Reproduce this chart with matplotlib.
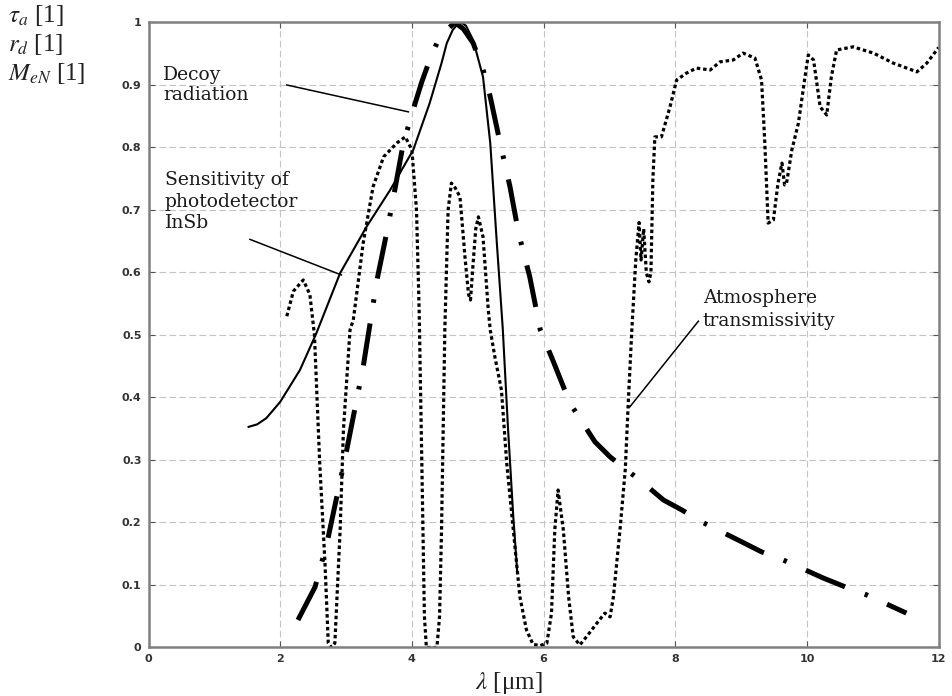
import matplotlib
matplotlib.use("Agg")
import matplotlib.pyplot as plt

# InSb photodetector sensitivity (solid)
insb_x = [1.52, 1.65, 1.79, 2.0, 2.3, 2.55, 2.91, 3.31, 3.67, 4.02, 4.27, 4.45, 4.53,
          4.62, 4.69, 4.75, 4.82, 4.93, 5.08, 5.19, 5.29, 5.38, 5.46, 5.54, 5.6]
insb_y = [0.353, 0.357, 0.367, 0.393, 0.444, 0.503, 0.599, 0.673, 0.732, 0.796, 0.871, 0.935, 0.967,
          0.988, 0.997, 1.0, 0.995, 0.972, 0.913, 0.807, 0.647, 0.51, 0.35, 0.209, 0.12]

# Decoy radiation (dash-dot)
decoy_x = [2.27, 2.53, 2.71, 3.01, 3.26, 3.47, 3.62, 3.74, 3.87, 4.05, 4.15, 4.27, 4.4,
           4.53, 4.65, 4.78, 4.93, 5.08, 5.19, 5.34, 5.49, 5.62, 5.79, 5.95, 6.15, 6.4,
           6.78, 7.01, 7.26, 7.46, 7.82, 8.1, 8.4, 9.01, 9.31, 9.64, 10.25, 10.58, 10.91, 11.51]
decoy_y = [0.044, 0.097, 0.167, 0.316, 0.449, 0.588, 0.665, 0.732, 0.807, 0.871, 0.905, 0.94, 0.972,
           0.988, 1.0, 0.99, 0.967, 0.925, 0.881, 0.807, 0.737, 0.663, 0.593, 0.508, 0.457, 0.391,
           0.329, 0.305, 0.284, 0.268, 0.236, 0.22, 0.201, 0.169, 0.153, 0.14, 0.111, 0.097, 0.084, 0.055]

# Atmosphere transmissivity (dotted)
atm_x = [2.10, 2.2, 2.35, 2.45, 2.52, 2.60, 2.68, 2.73, 2.78, 2.83, 2.91, 2.96, 3.06, 3.11,
         3.26, 3.41, 3.57, 3.77, 3.90, 4.0, 4.07, 4.11, 4.15, 4.19, 4.22, 4.30, 4.38, 4.42,
         4.45, 4.50, 4.55, 4.60, 4.66, 4.73, 4.81, 4.86, 4.89, 4.93, 4.97, 5.01, 5.08, 5.16,
         5.19, 5.26, 5.36, 5.44, 5.54, 5.64, 5.74, 5.84, 5.95, 6.05, 6.12, 6.17, 6.22, 6.26,
         6.30, 6.38, 6.45, 6.55, 6.65, 6.81, 6.93, 7.01, 7.06, 7.16, 7.24, 7.29, 7.34, 7.40,
         7.45, 7.48, 7.52, 7.56, 7.60, 7.63, 7.66, 7.69, 7.79, 7.92, 8.02, 8.17, 8.32, 8.53,
         8.68, 8.88, 9.03, 9.21, 9.31, 9.36, 9.41, 9.49, 9.56, 9.62, 9.66, 9.69, 9.77, 9.87,
         9.97, 10.02, 10.10, 10.20, 10.30, 10.37, 10.45, 10.70, 11.01, 11.31, 11.67, 11.82, 12.0]
atm_y = [0.53, 0.57, 0.588, 0.565, 0.50, 0.295, 0.135, 0.007, 0.0, 0.007, 0.188, 0.348, 0.508, 0.524,
         0.647, 0.737, 0.785, 0.807, 0.817, 0.796, 0.70, 0.54, 0.30, 0.05, 0.0, 0.0, 0.0, 0.05,
         0.188, 0.508, 0.70, 0.743, 0.735, 0.721, 0.62, 0.565, 0.556, 0.615, 0.67, 0.689, 0.657, 0.54,
         0.508, 0.465, 0.412, 0.295, 0.188, 0.081, 0.028, 0.005, 0.003, 0.007, 0.055, 0.188, 0.252, 0.22,
         0.188, 0.081, 0.017, 0.004, 0.017, 0.039, 0.055, 0.049, 0.081, 0.188, 0.284, 0.401, 0.508, 0.62,
         0.68, 0.62, 0.67, 0.60, 0.585, 0.60, 0.75, 0.817, 0.817, 0.865, 0.908, 0.919, 0.927, 0.924,
         0.937, 0.94, 0.951, 0.943, 0.908, 0.807, 0.679, 0.684, 0.743, 0.775, 0.74, 0.743, 0.796, 0.839,
         0.913, 0.948, 0.94, 0.865, 0.852, 0.913, 0.956, 0.961, 0.951, 0.935, 0.921, 0.935, 0.96]

x_ticks = [0, 2, 4, 6, 8, 10, 12]
y_ticks = [0, 0.1, 0.2, 0.3, 0.4, 0.5, 0.6, 0.7, 0.8, 0.9, 1]
y_tick_labels = ["0", "0.1", "0.2", "0.3", "0.4", "0.5", "0.6", "0.7", "0.8", "0.9", "1"]

plt.rcParams["mathtext.fontset"] = "stix"

fig = plt.figure(figsize=(9.52, 6.96), dpi=100)
ax = fig.add_axes([0.156, 0.0697, 0.830, 0.898])

ax.plot(atm_x, atm_y, color="black", lw=2.3, linestyle=(0, (1.1, 0.9)))
ax.plot(decoy_x, decoy_y, color="black", lw=3.6, linestyle=(0, (8.5, 4.2, 0.7, 4.2)),
        solid_capstyle="butt", dash_capstyle="butt")
ax.plot(insb_x, insb_y, color="black", lw=1.5)

ax.set_xlim(0, 12)
ax.set_ylim(0, 1)
ax.set_xticks(x_ticks)
ax.set_yticks(y_ticks)
ax.set_yticklabels(y_tick_labels)
ax.grid(True, color="#c4c4c4", linestyle=(0, (6, 3)), lw=0.8)
ax.tick_params(direction="in", length=4, color="#555555", labelsize=8,
               labelcolor="#333333", top=True, right=True, pad=5)
for lab in ax.get_xticklabels() + ax.get_yticklabels():
    lab.set_fontweight("bold")
for sp in ax.spines.values():
    sp.set_color("#808080")
    sp.set_linewidth(1.8)

# annotations
tfont = dict(family="DejaVu Serif", fontsize=13.5, color="#1a1a1a")
ax.text(0.22, 0.93, "Decoy\nradiation", va="top", ha="left", linespacing=1.1, **tfont)
ax.plot([2.10, 3.946], [0.90, 0.857], color="black", lw=1.1)

ax.text(0.25, 0.762, "Sensitivity of\nphotodetector\nInSb", va="top", ha="left",
        linespacing=1.25, **tfont)
ax.plot([1.54, 2.93], [0.653, 0.596], color="black", lw=1.1)

ax.text(8.42, 0.573, "Atmosphere\ntransmissivity", va="top", ha="left",
        linespacing=1.35, **tfont)
ax.plot([8.35, 7.31], [0.522, 0.385], color="black", lw=1.1)

# axis labels
lfont = dict(family="Liberation Serif", fontsize=18, color="#222222")
fig.text(0.008, 0.978, r"$\tau_a$ [1]", va="center", ha="left", **lfont)
fig.text(0.008, 0.936, r"$r_d$ [1]", va="center", ha="left", **lfont)
fig.text(0.008, 0.895, r"$M_{eN}$ [1]", va="center", ha="left", **lfont)
fig.text(0.535, 0.018, r"$\lambda$ [μm]", va="center", ha="center", **lfont)

fig.savefig("out.png", dpi=100)
